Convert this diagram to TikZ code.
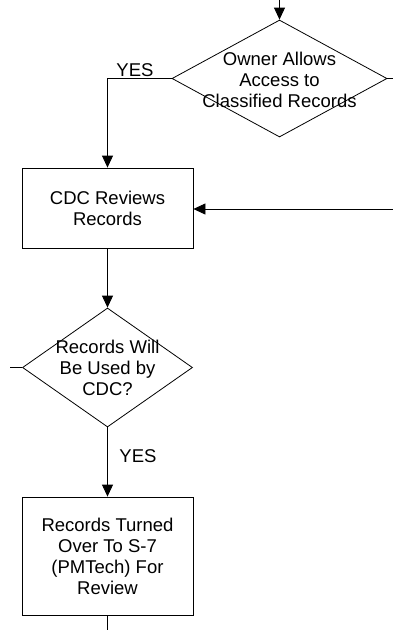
\documentclass[tikz,border=0pt]{standalone}
\usepackage{fontspec}
\setmainfont{Liberation Sans}
\usetikzlibrary{shapes.geometric,arrows.meta}
\begin{document}
\begin{tikzpicture}[x=1pt,y=-1pt,
  box/.style={draw,line width=0.8pt,minimum width=171pt,inner sep=0,font=\fontsize{18.5}{21}\selectfont,align=center},
  dia/.style={draw,diamond,line width=0.8pt,inner sep=0},
  lbl/.style={font=\fontsize{18.5}{21}\selectfont,align=center,inner sep=0},
  conn/.style={line width=0.8pt},
  arr/.style={conn,-{Triangle[length=12pt,width=11pt]}}]
\useasboundingbox (0,0) rectangle (393,630);
% decision 1
\node[dia,minimum width=215pt,minimum height=117pt] (d1) at (279.5,78.5) {};
\node[lbl] (d1t) at (279.5,80) {Owner Allows\\Access to\\Classified Records};
\coordinate (top) at (279.5,0);
\coordinate (r1) at (393,78.5);
\draw[arr] (top) -- (d1.north);
\draw[conn] (d1.east) -- (r1);
% box 1
\node[box,minimum height=80pt] (b1) at (107.5,208) {CDC Reviews\\Records};
\draw[arr] (d1.west) -| (b1.north);
\node[lbl] (yes1) at (135,70) {YES};
\coordinate (r2) at (393,209);
\draw[arr] (r2) -- (r2 -| b1.east);
% decision 2
\node[dia,minimum width=170pt,minimum height=119pt] (d2) at (107.5,367.5) {};
\node[lbl] (d2t) at (107.5,367.5) {Records Will\\Be Used by\\CDC?};
\draw[arr] (b1.south) -- (d2.north);
\coordinate (l2) at (10,367.5);
\draw[conn] (l2) -- (d2.west);
% box 2
\node[box,minimum height=118pt] (b2) at (107.5,556) {Records Turned\\Over To S-7\\(PMTech) For\\Review};
\draw[arr] (d2.south) -- (b2.north);
\node[lbl] (yes2) at (138,456) {YES};
\coordinate (bot) at (107.5,630);
\draw[conn] (b2.south) -- (bot);
\end{tikzpicture}
\end{document}
